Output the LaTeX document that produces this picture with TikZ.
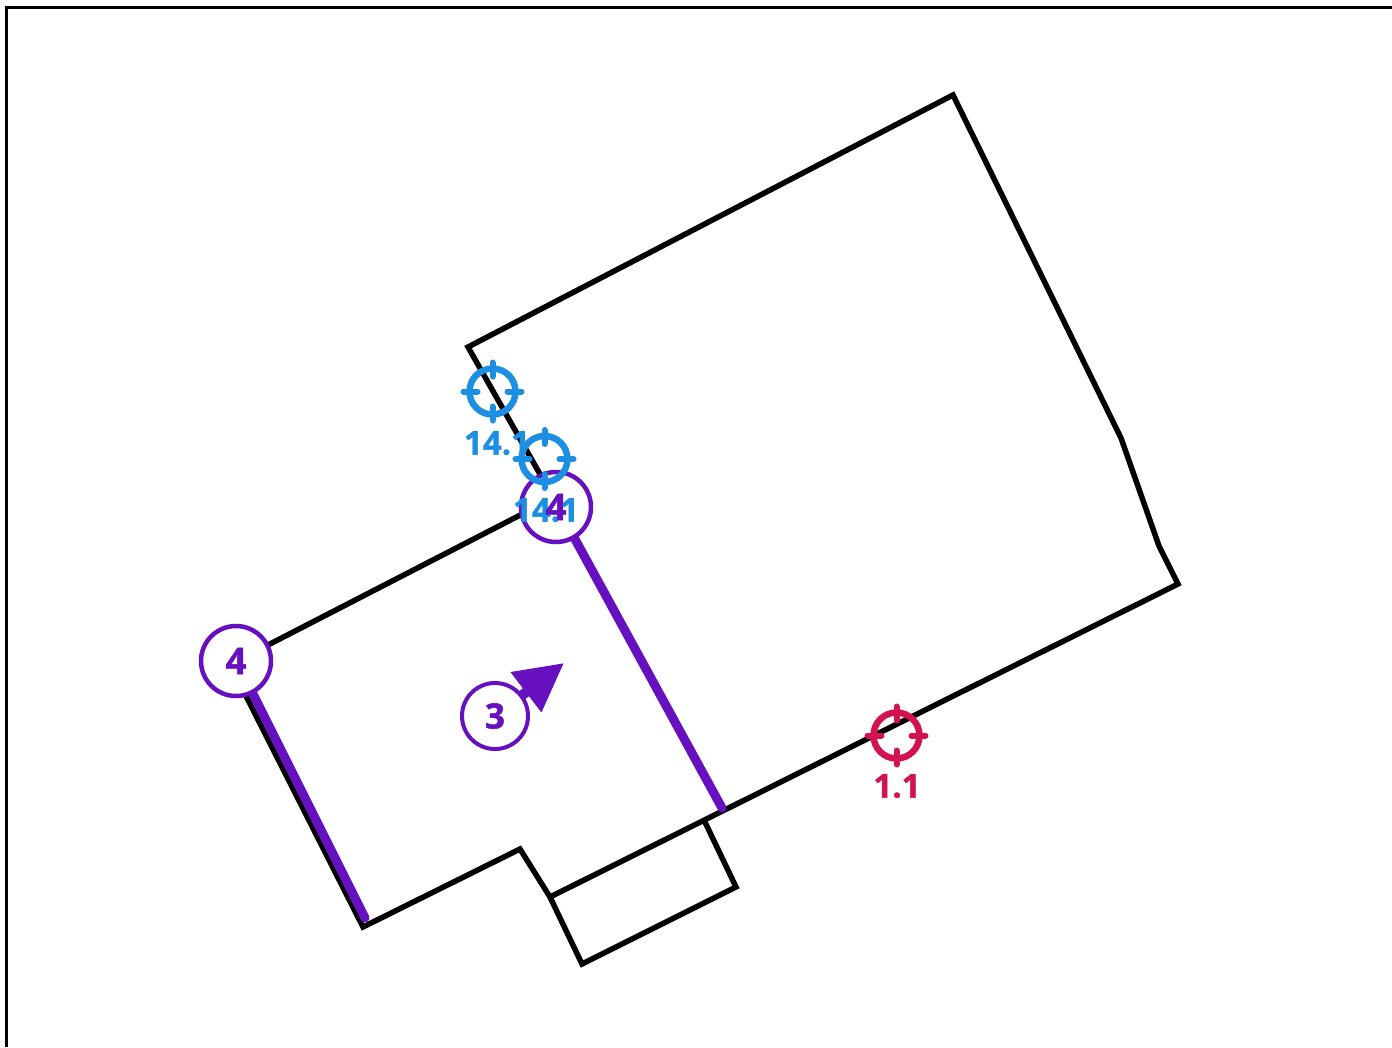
\documentclass[tikz,border=0pt]{standalone}
\usepackage{fontspec}
\setmainfont{Open Sans}[BoldFeatures={FakeBold=1.2}]
\usetikzlibrary{arrows.meta}
\definecolor{wallmark}{HTML}{6610BF}
\definecolor{pointblue}{HTML}{1C8FE3}
\definecolor{pointred}{HTML}{D4124F}
\tikzset{
    wall/.style={black, line width=5.5pt},
    marked/.style={wallmark, line width=9pt, line cap=round},
    badge/.style={circle, draw=wallmark, fill=white, line width=4.5pt, minimum size=70pt, inner sep=0pt},
    badgetext/.style={text=wallmark, font=\fontsize{37}{37}\selectfont\bfseries, inner sep=0pt},
    pointtext/.style={font=\fontsize{33}{33}\selectfont\bfseries, inner sep=0pt},
    target/.pic={
        \draw[line width=6.5pt] (0,0) circle [radius=23];
        \foreach \a in {0,90,180,270}
            \draw[line width=6pt, line cap=round] (\a:15) -- (\a:29);
    }
}
\begin{document}
\begin{tikzpicture}[x=1pt, y=-1pt]
    \useasboundingbox (0,0) rectangle (1392,1047);
    \draw[line width=2.5pt] (6.5,1047) -- (6.5,7.5) -- (1392,7.5);
    % outline of the building
    \draw[wall] (545,483) -- (468,347) -- (953,95) -- (1121,438) -- (1159,546) -- (1178,584) -- (550,897) -- (520,849) -- (363,927) -- (243,690);
    \draw[wall] (268,645) -- (530,510);
    \draw[wall] (704,820) -- (736,887) -- (582,964) -- (550,897);
    % marked walls
    \draw[marked] (252,692) -- (365,918);
    \draw[marked] (570,530) -- (722,808);
    % direction mark
    \coordinate (centreD) at (495,716);
    \coordinate (tip) at (564,663);
    \draw[wallmark, line width=10pt, -{Triangle[length=48pt, width=48pt]}] (centreD) -- (tip);
    \node[badge, minimum size=66pt, line width=4pt] (badgeD) at (centreD) {};
    \node[badgetext, font=\fontsize{35}{35}\selectfont\bfseries] (textD) at (badgeD) {3};
    \node[badge] (badgeA) at (236,661) {};
    \node[badgetext] (textA) at (badgeA) {4};
    \node[badge] (badgeB) at (556,507) {};
    % survey points
    \pic[pointblue] at (492.5,391.5) {target};
    \pic[pointblue] at (544.5,459) {target};
    \pic[pointred] at (896.5,735.5) {target};
    \node[pointtext, text=pointblue] (labelA) at (497,443) {14.1};
    \node[pointtext, text=pointblue] (labelB) at (546,510) {14.1};
    \node[pointtext, text=pointred] (labelC) at (897,786) {1.1};
    \node[badgetext] (textB) at (badgeB) {4};
\end{tikzpicture}
\end{document}
